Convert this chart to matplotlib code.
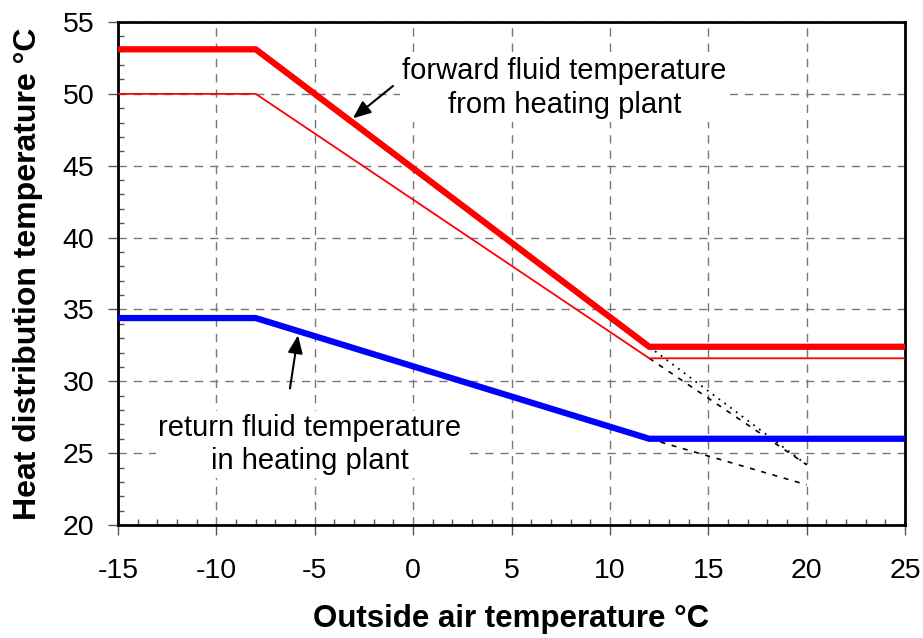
import matplotlib.pyplot as plt
import numpy as np

plt.rcParams['font.family'] = ['Liberation Sans', 'DejaVu Sans']
plt.rcParams['axes.unicode_minus'] = False

# outside air temperature breakpoints
x_curve = [-15, -8, 12, 25]
forward_plant = [53.1, 53.1, 32.4, 32.4]
forward_design = [50.0, 50.0, 31.6, 31.6]
return_plant = [34.4, 34.4, 26.0, 26.0]

# extrapolated lines beyond 12 °C
x_ext = [12, 20]
forward_plant_ext = [32.4, 24.2]
forward_design_ext = [31.6, 24.2]
return_ext = [26.0, 22.8]

xticks = [-15, -10, -5, 0, 5, 10, 15, 20, 25]
yticks = [20, 25, 30, 35, 40, 45, 50, 55]

fig = plt.figure(figsize=(9.23, 6.38), dpi=100)
ax = fig.add_axes([118 / 923, 1 - 525 / 638, 787 / 923, 503 / 638])

ax.plot(x_curve, forward_plant, color='#ff0000', lw=4.5, solid_capstyle='butt', zorder=4)
ax.plot(x_curve, forward_design, color='#ff0000', lw=1.3, zorder=4)
ax.plot(x_curve, return_plant, color='#0000ff', lw=4.5, solid_capstyle='butt', zorder=4)

ax.plot(x_ext, forward_plant_ext, color='black', lw=1.3, ls=(0, (1, 3)), zorder=3)
ax.plot(x_ext, forward_design_ext, color='black', lw=1.2, ls=(0, (3, 4)), zorder=3)
ax.plot(x_ext, return_ext, color='black', lw=1.2, ls=(0, (3, 4)), zorder=3)

ax.set_xlim(-15, 25)
ax.set_ylim(20, 55)
ax.set_xticks(xticks)
ax.set_yticks(yticks)
ax.set_xticks(np.arange(-15, 26, 1), minor=True)
ax.set_yticks(np.arange(20, 56, 1), minor=True)
ax.tick_params(axis='both', which='major', labelsize=20.5, direction='out', length=7, width=1,
               color='#555555')
ax.tick_params(axis='x', which='major', pad=17)
ax.tick_params(axis='y', which='major', pad=10)
ax.tick_params(axis='both', which='minor', direction='in', length=4, width=1, color='#555555')

ax.grid(True, which='major', color='#777777', ls=(0, (6, 5)), lw=1)
for s in ax.spines.values():
    s.set_linewidth(2)

ax.set_xlabel('Outside air temperature °C', fontsize=22.5, fontweight='bold', labelpad=14)
ax.set_ylabel('Heat distribution temperature °C', fontsize=23, fontweight='bold', labelpad=14)

box = dict(facecolor='white', edgecolor='none', pad=2)
arrow = dict(arrowstyle='-|>,head_length=0.6,head_width=0.25', color='black', lw=1.5,
             mutation_scale=18, shrinkA=0, shrinkB=0)

ax.text(7.7, 50.4, 'forward fluid temperature\nfrom heating plant', ha='center', va='center',
        fontsize=21, bbox=box, zorder=5, linespacing=1.25)
ax.annotate('', xy=(-3.06, 48.3), xytext=(-1.02, 50.55), arrowprops=arrow, zorder=5)

ax.text(-5.24, 25.6, 'return fluid temperature\nin heating plant', ha='center', va='center',
        fontsize=21, bbox=box, zorder=5, linespacing=1.25)
ax.annotate('', xy=(-5.85, 33.2), xytext=(-6.26, 29.5), arrowprops=arrow, zorder=5)

fig.savefig('out.png', dpi=100)
